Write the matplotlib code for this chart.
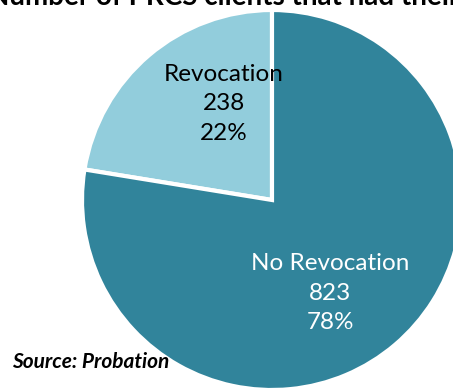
import matplotlib
matplotlib.use("Agg")
import matplotlib.pyplot as plt

categories = ["Revocation", "No Revocation"]
counts = [238, 823]
colors = ["#92CDDC", "#31849B"]
text_colors = ["black", "white"]
title = "Number of PRCS clients that had their"
source = "Source: Probation"

W, H = 453, 388
fig = plt.figure(figsize=(W / 100, H / 100), dpi=100)
ax = fig.add_axes([0, 0, 1, 1])
ax.set_xlim(0, W)
ax.set_ylim(0, H)
ax.set_aspect("equal")
ax.axis("off")

cx, cy, R = 272, H - 200, 190
ax.pie(counts, colors=colors, startangle=90, counterclock=True,
       center=(cx, cy), radius=R,
       wedgeprops=dict(edgecolor="white", linewidth=3))
ax.set_xlim(0, W)
ax.set_ylim(0, H)

total = sum(counts)
offsets = [(-48, 96), (58, -93)]
for cat, n, tc, (dx, dy) in zip(categories, counts, text_colors, offsets):
    pct = round(100 * n / total)
    ax.text(cx + dx, cy + dy, f"{cat}\n{n}\n{pct}%", ha="center", va="center",
            color=tc, fontsize=17.5, family="Lato", linespacing=1.5)

fig.text(-12 / W, 1 - 5 / H, title, ha="left", va="baseline",
         fontsize=20, fontweight="bold", family="Lato")
fig.text(12 / W, 1 - 362 / H, source, ha="left", va="center",
         fontsize=15, fontweight="bold", fontstyle="italic", family="Lato")

fig.savefig("out.png", dpi=100)
